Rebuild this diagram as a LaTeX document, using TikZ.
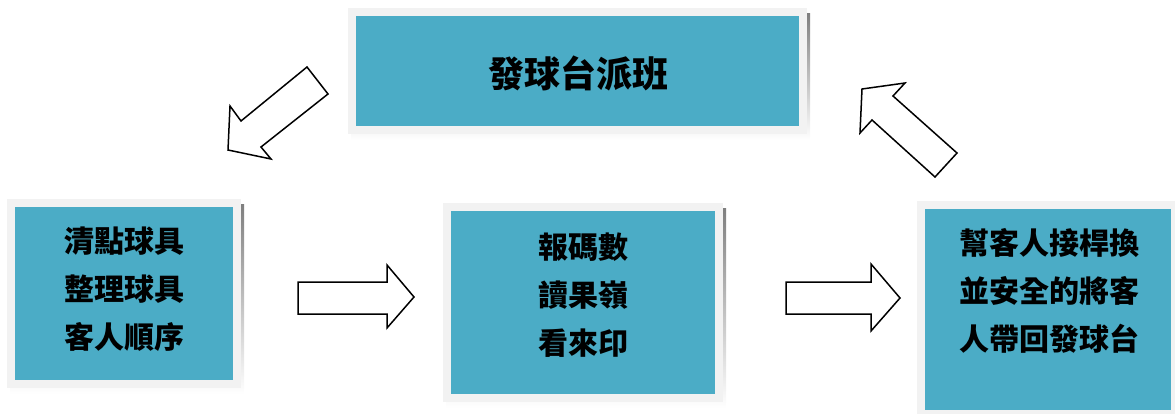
\documentclass[tikz,border=0pt]{standalone}
\usepackage{fontspec}
\newfontfamily\cjk{Noto Sans CJK TC}
\usetikzlibrary{backgrounds}
\definecolor{teal}{HTML}{4BACC6}
\definecolor{frame}{HTML}{F2F2F2}
\definecolor{shade}{HTML}{8EA9B4}
\tikzset{
  box/.style={fill=teal, draw=frame, line width=8pt, inner sep=0pt},
  lbl/.style={align=center, inner sep=0pt, font=\cjk\bfseries\fontsize{30}{48}\selectfont},
  title/.style={lbl, font=\cjk\bfseries\fontsize{36}{40}\selectfont},
  blockarrow/.style={draw=black, fill=white, line width=1.5pt, line join=miter},
}
\newcommand{\boxshadow}[1]{%
  \begin{pgfonlayer}{background}
    \fill[shade] ([shift={(3,6)}]#1.north west) rectangle ([shift={(3,6)}]#1.south east);
  \end{pgfonlayer}}
\begin{document}
\begin{tikzpicture}[x=1pt,y=-1pt]
\useasboundingbox (0,0) rectangle (1175,414);
% boxes
\node[box, minimum width=451pt, minimum height=118pt] (top) at (577.5,71) {};
\node[box, minimum width=226pt, minimum height=181pt] (left) at (124,293.5) {};
\node[box, minimum width=272pt, minimum height=191pt] (mid) at (583,302.5) {};
\node[box, minimum width=254pt, minimum height=209pt] (right) at (1048,309.5) {};
\boxshadow{top}
\boxshadow{left}
\boxshadow{mid}
\boxshadow{right}
% labels
\node[title] (ttop) at (578,73) {發球台派班};
\node[lbl] (tleft) at (124,289.5) {清點球具\\整理球具\\客人順序};
\node[lbl] (tmid) at (583,295) {報碼數\\讀果嶺\\看來印};
\node[lbl] (tright) at (1049,291) {幫客人接桿換\\並安全的將客\\人帶回發球台};
% block arrows
\draw[blockarrow] (307,67) -- (241,121) -- (230,106) -- (228,150) -- (271,159) -- (261,147) -- (328,94) -- cycle;
\draw[blockarrow] (862,89) -- (905,83) -- (893,96) -- (957,153) -- (935,177) -- (872,120) -- (860,133) -- cycle;
\draw[blockarrow] (298,282) -- (387,282) -- (387,265) -- (414,297) -- (387,328) -- (387,314) -- (298,314) -- cycle;
\draw[blockarrow] (786,282) -- (871,282) -- (871,264) -- (900,298) -- (871,331) -- (871,314) -- (786,314) -- cycle;
\end{tikzpicture}
\end{document}
